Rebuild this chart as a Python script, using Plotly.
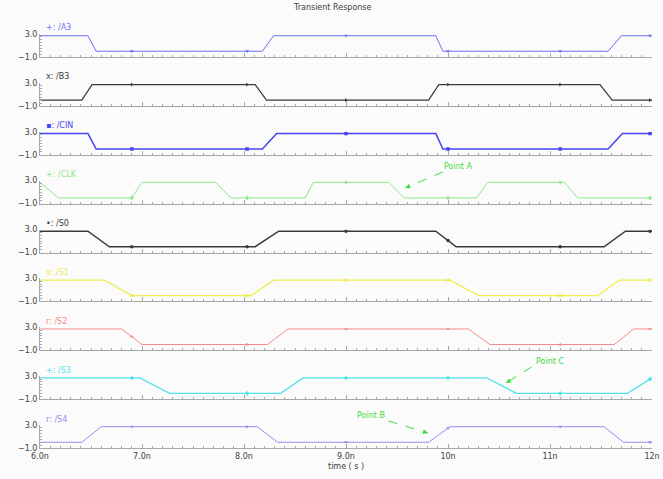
import plotly.graph_objects as go
import numpy as np

# ---------------- data (time in ns, voltage in V) ----------------
names = ["/A3", "/B3", "/CIN", "/CLK", "/S0", "/S1", "/S2", "/S3", "/S4"]
prefixes = ["+:", "x:", "\u25aa:", "+:", "\u2022:", "x:", "r:", "+:", "r:"]
colors = ["#6f6ff5", "#3a3a3a", "#4646f0", "#8ee88e", "#3a3a3a",
          "#eeee50", "#f58a8a", "#4fe3ee", "#8f8ff0"]
widths = [1, 1.2, 1.6, 1, 1.5, 1.3, 1, 1.3, 1]
symbols = ["triangle-down", "triangle-right", "square", "cross", "circle",
           "x", "triangle-up", "diamond", "triangle-down"]

a3_t = [6.0, 6.47, 6.55, 8.18, 8.29, 9.88, 9.95, 11.57, 11.70, 12.0]
a3_v = [2.7, 2.7, 0.0, 0.0, 2.7, 2.7, 0.0, 0.0, 2.7, 2.7]
b3_t = [6.0, 6.41, 6.51, 8.11, 8.22, 9.81, 9.91, 11.49, 11.61, 12.0]
b3_v = [0.0, 0.0, 2.7, 2.7, 0.0, 0.0, 2.7, 2.7, 0.0, 0.0]
cin_t = [6.0, 6.47, 6.55, 8.18, 8.32, 9.88, 9.95, 11.57, 11.71, 12.0]
cin_v = [2.7, 2.7, 0.0, 0.0, 2.7, 2.7, 0.0, 0.0, 2.7, 2.7]
clk_t = [6.0, 6.18, 6.90, 7.00, 7.72, 7.87, 8.60, 8.68, 9.42, 9.57,
         10.28, 10.39, 11.14, 11.27, 12.0]
clk_v = [2.7, 0.0, 0.0, 2.7, 2.7, 0.0, 0.0, 2.7, 2.7, 0.0,
         0.0, 2.7, 2.7, 0.0, 0.0]
s0_t = [6.0, 6.47, 6.68, 8.11, 8.34, 9.88, 10.08, 11.53, 11.74, 12.0]
s0_v = [2.7, 2.7, 0.0, 0.0, 2.7, 2.7, 0.0, 0.0, 2.7, 2.7]
s1_t = [6.0, 6.63, 6.90, 8.07, 8.29, 10.02, 10.30, 11.47, 11.68, 12.0]
s1_v = [2.7, 2.7, 0.0, 0.0, 2.7, 2.7, 0.0, 0.0, 2.7, 2.7]
s2_t = [6.0, 6.80, 7.00, 8.23, 8.43, 10.20, 10.41, 11.63, 11.82, 12.0]
s2_v = [2.7, 2.7, 0.0, 0.0, 2.7, 2.7, 0.0, 0.0, 2.7, 2.7]
s3_t = [6.0, 6.98, 7.27, 8.36, 8.58, 10.38, 10.67, 11.76, 12.0]
s3_v = [2.7, 2.7, 0.0, 0.0, 2.7, 2.7, 0.0, 0.0, 2.7]
s4_t = [6.0, 6.41, 6.60, 8.13, 8.33, 9.81, 10.02, 11.53, 11.72, 12.0]
s4_v = [0.0, 0.0, 2.7, 2.7, 0.0, 0.0, 2.7, 2.7, 0.0, 0.0]

marker_t = [6.9, 8.03, 9.0, 10.0, 11.1, 11.98]

x_tickvals = [6, 7, 8, 9, 10, 11, 12]
x_ticktext = ["6.0n", "7.0n", "8.0n", "9.0n", "10n", "11n", "12n"]
y_tickvals = [-1, 3]
y_ticktext = ["\u22121.0", "3.0"]

series = [(a3_t, a3_v), (b3_t, b3_v), (cin_t, cin_v), (clk_t, clk_v),
          (s0_t, s0_v), (s1_t, s1_v), (s2_t, s2_v), (s3_t, s3_v), (s4_t, s4_v)]

# ---------------- layout geometry (screen pixels; body margin removed) ----------------
W, Hh = 663, 479
PX0, PX1 = 40, 660                     # plot area (x)
PY0, PY1 = 34, 448                     # plot area (y)
ML, MR = PX0, W - PX1
MT, MB = PY0, Hh - PY1
PW, PH = PX1 - PX0, PY1 - PY0
pitch = (PY1 - 57) / 8.0               # baseline of first panel at y=57
pan_h = 23


def px(x, y):
    """screen pixel -> paper coordinates"""
    return (x - PX0) / PW, (PY1 - y) / PH


axis_col = "#a8a8a8"
txt_col = "#404040"
bg = "#fbfbfb"
FONT = "DejaVu Sans"

fig = go.Figure()
layout = {}
annotations = []
shapes = []

for k, ((t, v), nm) in enumerate(zip(series, names)):
    idx = "" if k == 0 else str(k + 1)
    base = 57 + pitch * k
    top = base - pan_h
    d0 = max(0.0, (PY1 - base) / PH)
    d1 = (PY1 - top) / PH
    fig.add_trace(go.Scatter(x=t, y=v, mode="lines",
                             line=dict(color=colors[k], width=widths[k]),
                             xaxis="x" + idx, yaxis="y" + idx,
                             showlegend=False, hoverinfo="skip"))
    my = np.interp(marker_t, t, v)
    fig.add_trace(go.Scatter(x=marker_t, y=my, mode="markers",
                             marker=dict(color=colors[k], size=3.5, symbol=symbols[k]),
                             xaxis="x" + idx, yaxis="y" + idx,
                             showlegend=False, hoverinfo="skip"))
    last = (k == 8)
    layout["xaxis" + idx] = dict(
        domain=[0, 1], anchor="y" + idx, range=[6, 12],
        tickmode="array", tickvals=x_tickvals, ticktext=x_ticktext,
        showticklabels=last, ticks="inside", ticklen=4, tickcolor=axis_col,
        ticklabeloverflow="allow",
        minor=dict(tickmode="linear", tick0=6, dtick=0.1, ticks="inside",
                   ticklen=2, tickcolor=axis_col, showgrid=False),
        showline=True, linecolor=axis_col, linewidth=1,
        showgrid=False, zeroline=False,
        tickfont=dict(size=8, color=txt_col, family=FONT),
        matches=None if k == 0 else "x")
    layout["yaxis" + idx] = dict(
        domain=[d0, d1], anchor="x" + idx, range=[-1, 3],
        tickmode="array", tickvals=y_tickvals, ticktext=y_ticktext,
        ticks="inside", ticklen=3, tickcolor=axis_col,
        minor=dict(tickmode="linear", tick0=-1, dtick=0.5, ticks="inside",
                   ticklen=2, tickcolor=axis_col, showgrid=False),
        showline=True, linecolor=axis_col, linewidth=1,
        showgrid=False, zeroline=False,
        tickfont=dict(size=8, color=txt_col, family=FONT))
    lx, ly = px(44, base - 29)
    annotations.append(dict(xref="paper", yref="paper", x=lx, y=ly,
                            xanchor="left", yanchor="middle", showarrow=False,
                            text=prefixes[k] + " " + nm,
                            font=dict(size=8, color=colors[k], family=FONT)))

# title and axis title
tx, ty = px(336, 8)
annotations.append(dict(xref="paper", yref="paper", x=tx, y=ty, showarrow=False,
                        xanchor="center", yanchor="middle", text="Transient Response",
                        font=dict(size=8, color=txt_col, family=FONT)))
ax_, ay_ = px(350, 466)
annotations.append(dict(xref="paper", yref="paper", x=ax_, y=ay_, showarrow=False,
                        xanchor="center", yanchor="middle", text="time ( s )",
                        font=dict(size=8, color=txt_col, family=FONT)))

# point annotations: (text pos, arrow tail, arrow head) in screen pixels
green = "#3fdc3f"
points = [("Point A", (463, 166), (448, 172), (410, 188)),
          ("Point C", (557, 361), (538, 367), (512, 383)),
          ("Point B", (375, 415), (393, 421), (433, 433))]
for label, tp, tail, head in points:
    x0, y0 = px(*tail)
    x1, y1 = px(*head)
    shapes.append(dict(type="line", xref="paper", yref="paper",
                       x0=x0, y0=y0, x1=x1, y1=y1,
                       line=dict(color=green, width=1, dash="dash")))
    dx, dy = tail[0] - head[0], tail[1] - head[1]
    n = (dx * dx + dy * dy) ** 0.5
    annotations.append(dict(xref="paper", yref="paper", x=x1, y=y1,
                            ax=dx / n * 6, ay=dy / n * 6, axref="pixel", ayref="pixel",
                            showarrow=True, arrowhead=2, arrowsize=1, arrowwidth=1,
                            arrowcolor=green, text=""))
    txp, typ = px(*tp)
    annotations.append(dict(xref="paper", yref="paper", x=txp, y=typ, showarrow=False,
                            xanchor="center", yanchor="middle", text=label,
                            font=dict(size=8, color=green, family=FONT)))

fig.update_layout(width=W, height=Hh, margin=dict(l=ML, r=MR, t=MT, b=MB),
                  paper_bgcolor=bg, plot_bgcolor=bg,
                  annotations=annotations, shapes=shapes, **layout)

fig.write_html("out.html",
               config={"displayModeBar": False, "staticPlot": True},
               post_script="document.body.style.margin='0';"
                           "document.body.style.overflow='hidden';")
